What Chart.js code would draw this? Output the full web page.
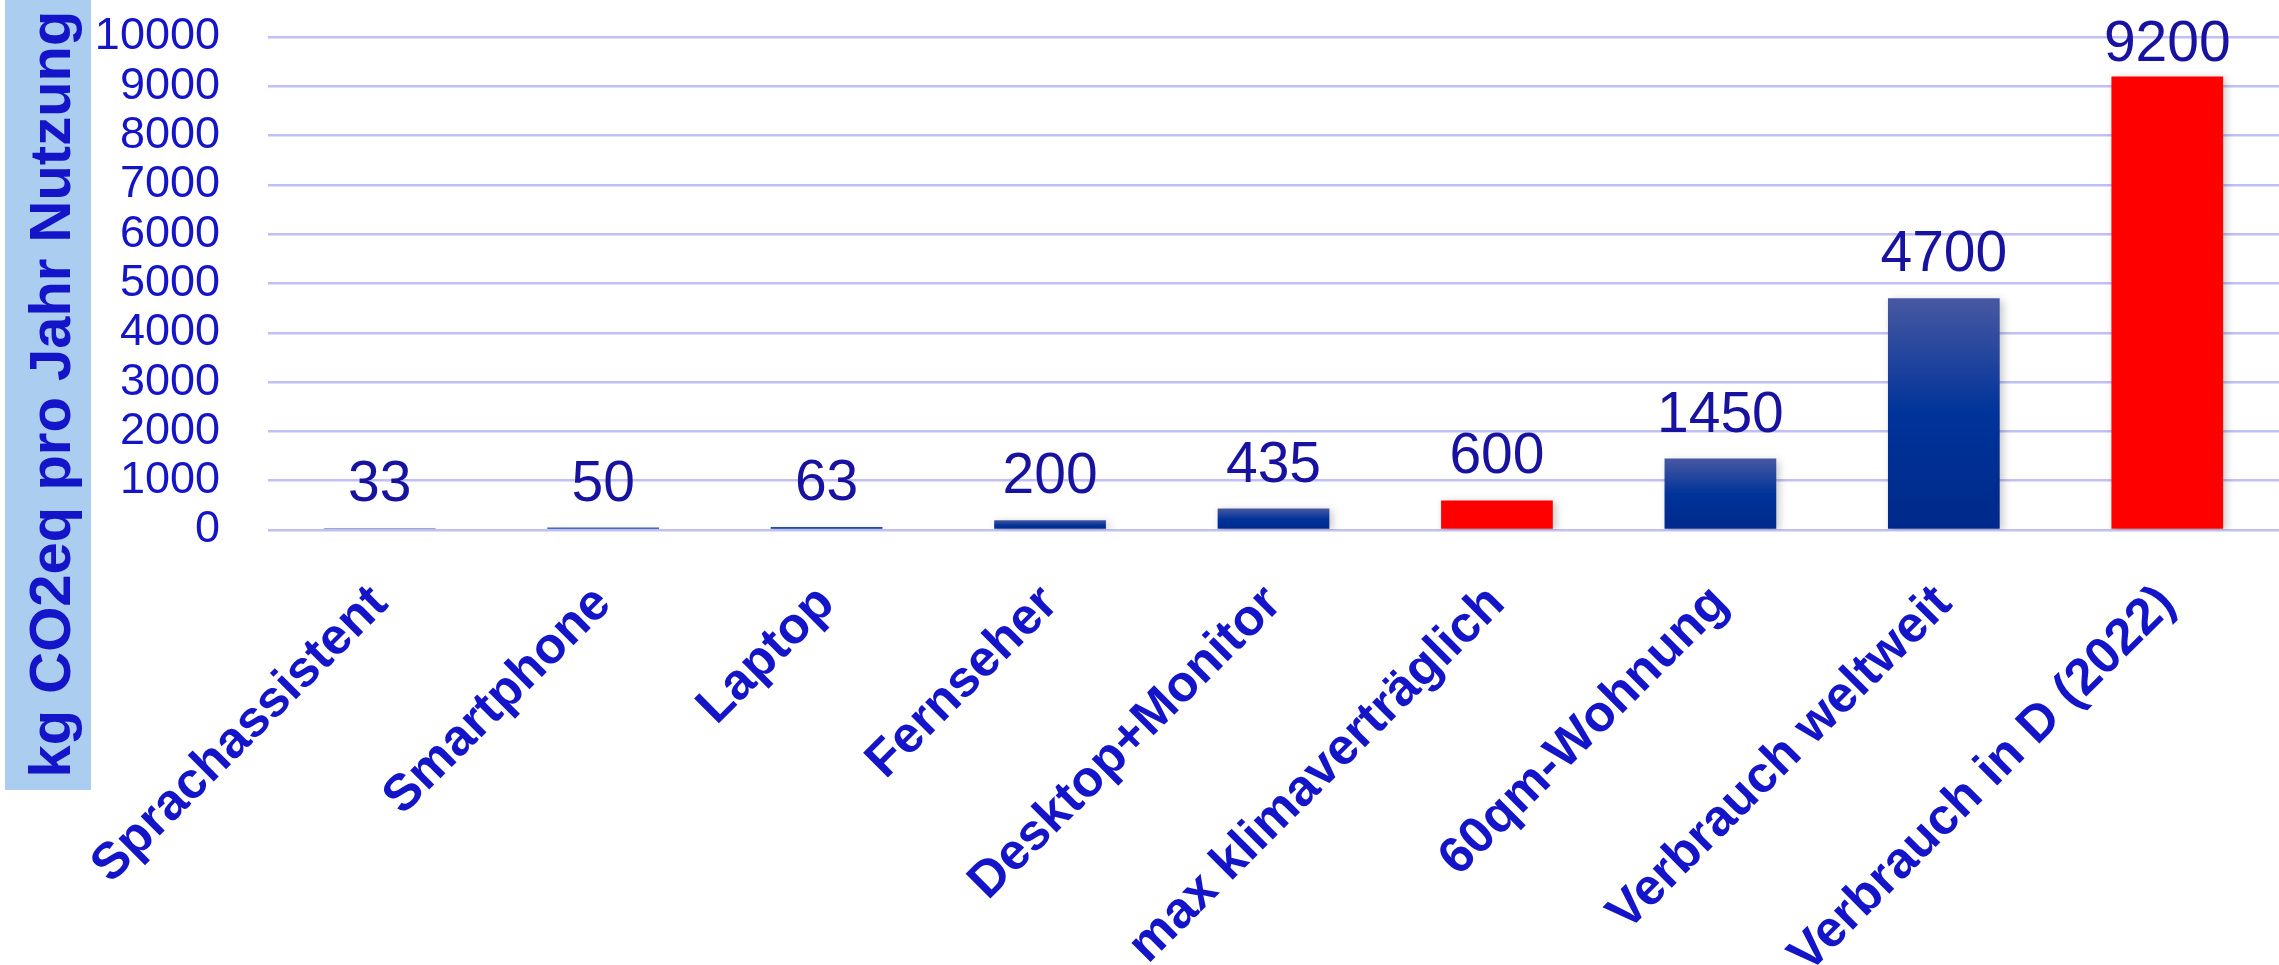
<!DOCTYPE html>
<html>
<head>
<meta charset="utf-8">
<script src="https://cdn.jsdelivr.net/npm/chart.js@4/dist/chart.umd.min.js"></script>
<style>
  html, body { margin: 0; padding: 0; background: #fff; overflow: hidden; }
</style>
</head>
<body>
<canvas id="myChart" width="2279" height="965"></canvas>
<script>
// data
const categories = ['Sprachassistent', 'Smartphone', 'Laptop', 'Fernseher', 'Desktop+Monitor',
  'max klimaverträglich', '60qm-Wohnung', 'Verbrauch weltweit', 'Verbrauch in D (2022)'];
const co2 = [33, 50, 63, 200, 435, 600, 1450, 4700, 9200];
const highlighted = ['max klimaverträglich', 'Verbrauch in D (2022)'];
const yTicks = [0, 1000, 2000, 3000, 4000, 5000, 6000, 7000, 8000, 9000, 10000];
const yTitle = 'kg CO2eq pro Jahr Nutzung';

const FONT = '"Liberation Sans", Arial, sans-serif';
const textBlue = '#1414c8';
const labelBlue = '#1812a0';

function barFill(ctx) {
	const chart = ctx.chart;
	if (highlighted.includes(categories[ctx.dataIndex])) return '#ff0000';
	if (!chart.chartArea) return '#003399';
	const y = chart.scales.y;
	const top = y.getPixelForValue(co2[ctx.dataIndex]);
	const bottom = y.getPixelForValue(0);
	const g = chart.ctx.createLinearGradient(0, top, 0, bottom + 0.01);
	g.addColorStop(0, '#4858a2');
	g.addColorStop(0.5, '#003399');
	g.addColorStop(1, '#00298a');
	return g;
}

// light blue box with the rotated axis title
const yTitleBox = {
	id: 'yTitleBox',
	beforeDraw(chart) {
		const c = chart.ctx;
		c.save();
		c.fillStyle = '#aacdf0';
		c.fillRect(5, 0, 86, 790);
		c.translate(70, 394);
		c.rotate(-Math.PI / 2);
		c.font = 'bold 58px ' + FONT;
		c.fillStyle = textBlue;
		c.textAlign = 'center';
		c.textBaseline = 'alphabetic';
		c.fillText(yTitle, 0, 0);
		c.restore();
	}
};

const barShadow = {
	id: 'barShadow',
	beforeDatasetsDraw(chart) {
		const c = chart.ctx;
		c.save();
		c.shadowColor = 'rgba(0,0,0,0.22)';
		c.shadowBlur = 8;
		c.shadowOffsetX = 3;
		c.shadowOffsetY = 2;
	},
	afterDatasetsDraw(chart) {
		chart.ctx.restore();
	}
};

const valueLabels = {
	id: 'valueLabels',
	afterDraw(chart) {
		const c = chart.ctx;
		const meta = chart.getDatasetMeta(0);
		c.save();
		c.font = '57px ' + FONT;
		c.fillStyle = labelBlue;
		c.textAlign = 'center';
		c.textBaseline = 'alphabetic';
		meta.data.forEach((bar, i) => {
			const y = Math.max(bar.y - 27, chart.chartArea.top + 24);
			c.fillText(String(co2[i]), bar.x, y);
		});
		c.restore();
	}
};

new Chart(document.getElementById('myChart'), {
	type: 'bar',
	data: {
		labels: categories,
		datasets: [{
			data: co2,
			backgroundColor: barFill,
			borderWidth: 0,
			barPercentage: 0.5,
			categoryPercentage: 1
		}]
	},
	options: {
		responsive: false,
		devicePixelRatio: 1,
		animation: false,
		layout: { padding: { left: 0, top: 37, right: 0, bottom: 0 } },
		plugins: {
			legend: { display: false },
			tooltip: { enabled: false }
		},
		scales: {
			x: {
				grid: { display: false },
				border: { display: false },
				afterFit(s) { s.paddingLeft = 0; s.paddingRight = 0; s.height = 435; },
				ticks: {
					autoSkip: false,
					minRotation: 45,
					maxRotation: 45,
					padding: 36,
					labelOffset: 0,
					color: textBlue,
					font: { family: FONT, size: 51, weight: 'bold' }
				}
			},
			y: {
				min: 0,
				max: 10000,
				afterBuildTicks(scale) { scale.ticks = yTicks.map(v => ({ value: v })); },
				afterFit(s) { s.width = 268; s.paddingTop = 0; s.paddingBottom = 0; },
				grid: { color: '#c0c0f4', lineWidth: 2.5, drawTicks: false },
				border: { display: false },
				ticks: {
					autoSkip: false,
					padding: 48,
					color: textBlue,
					font: { family: FONT, size: 45 },
					callback: v => String(v)
				}
			}
		}
	},
	plugins: [yTitleBox, barShadow, valueLabels]
});
</script>
</body>
</html>
